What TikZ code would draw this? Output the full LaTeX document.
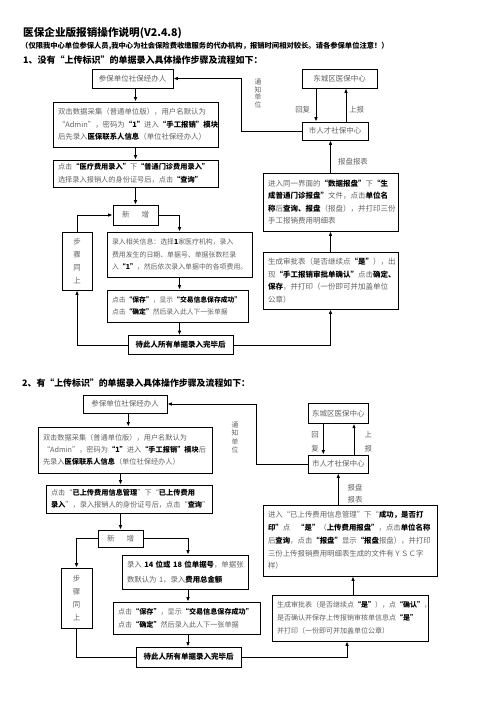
\documentclass[tikz,border=0pt]{standalone}
\usepackage{fontspec}
\setmainfont{Noto Sans CJK SC}
\usetikzlibrary{arrows.meta,calc}
\definecolor{txt}{gray}{0.38}
\newcommand{\hb}[1]{{\bfseries\color{black}#1}}
\tikzset{
  box/.style={draw, line width=0.8pt, inner xsep=5pt, inner ysep=0pt, align=left, text=txt,
    font=\fontsize{7.5}{12.5}\selectfont},
  cbox/.style={draw, line width=0.8pt, inner sep=0pt, align=center, text=txt,
    font=\fontsize{7.5}{12.5}\selectfont},
  lbl/.style={inner sep=0pt, text=txt, align=center, font=\fontsize{7.4}{12.7}\selectfont},
  arr/.style={-{Latex[length=4.5pt,width=3.6pt]}, line width=0.9pt},
  ln/.style={line width=0.9pt},
  head/.style={inner sep=0pt, anchor=west, font=\bfseries}
}
\begin{document}
\begin{tikzpicture}[x=1pt,y=-1pt]
\useasboundingbox (0,0) rectangle (496,702);
% headings
\node[head, font=\fontsize{10.6}{12}\selectfont\bfseries] (t0) at (23,33) {医保企业版报销操作说明(V2.4.8)};
\node[head, font=\fontsize{7.3}{9}\selectfont\bfseries] (t1) at (21,46.5) {（仅限我中心单位参保人员,我中心为社会保险费收缴服务的代办机构，报销时间相对较长。请各参保单位注意！）};
\node[head, font=\fontsize{9}{11}\selectfont\bfseries] (t2) at (23,60) {1、没有“上传标识”的单据录入具体操作步骤及流程如下：};

% ---------- section 1 ----------
\node[cbox, minimum width=81, minimum height=19] (a1) at (132.5,78.5) {参保单位社保经办人};
\node[box, text width=155, minimum height=45, font=\fontsize{7.4}{12.5}\selectfont] (b1) at (135.5,124.5) {双击数据采集（普通单位版），用户名默认为\\“Admin”，密码为\hb{“1”}进入\hb{“手工报销”模块}\\后先录入\hb{医保联系人信息}（单位社保经办人）};
\node[box, text width=155, minimum height=27, font=\fontsize{7.2}{12.5}\selectfont] (c1) at (135.5,173.5) {点击\hb{“医疗费用录入”}下\hb{“普通门诊费用录入”}\\选择录入报销人的身份证号后，点击\hb{“查询”}};
\node[cbox, minimum width=45, minimum height=20] (n1) at (135.5,215) {新\kern 12pt 增};
\node[box, text width=135, minimum height=45, font=\fontsize{6.9}{12.5}\selectfont] (e1) at (179.5,254.5) {录入相关信息：选择\hb{1}家医疗机构，录入\\费用发生的日期、单据号、单据张数栏录\\入\hb{“1”}，然后依次录入单据中的各项费用。};
\node[box, text width=131, minimum height=32, font=\fontsize{6.8}{12.5}\selectfont] (f1) at (177.5,306) {点击\hb{“保存”}，显示\hb{“交易信息保存成功”}\\点击\hb{“确定”}然后录入此人下一张单据};
\node[cbox, minimum width=105, minimum height=19] (g1) at (180.5,345) {\hb{待此人所有单据录入完毕后}};
\node[cbox, minimum width=30, minimum height=58, font=\fontsize{7.4}{12.7}\selectfont] (s1) at (77,261) {步\\骤\\同\\上};
\node[cbox, minimum width=75, minimum height=19] (h1) at (339.5,78.5) {东城区医保中心};
\node[cbox, minimum width=66, minimum height=18] (m1) at (335,131) {市人才社保中心};
\node[box, text width=125, minimum height=58] (p1) at (330.5,202) {进入同一界面的\hb{“数据报盘”}下\hb{“生}\\\hb{成普通门诊报盘”}文件，点击\hb{单位名}\\\hb{称}后\hb{查询、报盘}（报盘），并打印三份\\手工报销费用明细表};
\node[box, text width=125, minimum height=57] (q1) at (330.5,280.5) {生成审批表（是否继续点\hb{“是”}），出\\现\hb{“手工报销审批单确认”}点击\hb{确定、}\\\hb{保存}，并打印（一份即可并加盖单位\\公章）};
\coordinate (k1) at (241,105);
% labels
\node[lbl, font=\fontsize{6.8}{7.6}\selectfont] (v1) at (258,93.5) {通\\知\\单\\位};
\node[lbl] (r1) at (302.7,110) {回复};
\node[lbl] (u1) at (356.7,110) {上报};
\node[lbl] (w1) at (353,161.7) {报盘报表};
% connectors
\draw[arr] (a1.south -| b1.north) -- (b1.north);
\draw[arr] (b1.south) -- (c1.north);
\draw[arr] (c1.south) -- (n1.north);
\draw[arr] (n1.east) -| (e1.north);
\draw[arr] (e1.south) -- (e1.south |- f1.north);
\draw[arr] (e1.south |- f1.south) -- (e1.south |- g1.north);
\draw[arr] (g1.west) -| (s1.south);
\draw[arr] (s1.north) |- (n1.west);
\draw[arr] (g1.east) -| (q1.south);
\draw[arr] (q1.north) -- (p1.south);
\draw[arr] (p1.north) -- (p1.north |- m1.south);
\draw[arr] ([xshift=-19pt]m1.north |- h1.south) -- ([xshift=-19pt]m1.north);
\draw[arr] ([xshift=11pt]m1.north) -- ([xshift=11pt]m1.north |- h1.south);
\draw[arr] (m1.west) -- (m1.west -| k1) -- (k1 |- a1.east) -- (a1.east);

% ---------- section 2 ----------
\node[head, font=\fontsize{8.9}{11}\selectfont\bfseries] (t3) at (22,383.3) {2、有“上传标识”的单据录入具体操作步骤及流程如下：};
\node[cbox, minimum width=84, minimum height=18] (a2) at (125,404) {参保单位社保经办人};
\node[box, text width=164, minimum height=46, font=\fontsize{7.2}{12.3}\selectfont] (b2) at (125,450) {双击数据采集（普通单位版），用户名默认为\\“Admin”，密码为\hb{“1”}进入\hb{“手工报销”模块}后\\先录入\hb{医保联系人信息}（单位社保经办人）};
\node[box, text width=156, minimum height=28, font=\fontsize{7.2}{12.5}\selectfont] (c2) at (129,499) {点击“\hb{已上传费用信息管理}”下“\hb{已上传费用}\\\hb{录入}”，录入报销人的身份证号后，点击“\hb{查询}”};
\node[cbox, minimum width=45, minimum height=17] (n2) at (120.5,538.5) {新\kern 12pt 增};
\node[cbox, minimum width=31, minimum height=60, font=\fontsize{7.4}{12.7}\selectfont] (s2) at (76.5,598) {步\\骤\\同\\上};
\node[box, text width=116, minimum height=34, font=\fontsize{7.4}{14.5}\selectfont] (e2) at (185,572) {录入~\hb{14~位或~18~位单据号}，单据张\\数默认为~1，录入\hb{费用总金额}};
\node[box, text width=137, minimum height=32, font=\fontsize{7.1}{12.5}\selectfont] (f2) at (186.5,618) {点击\hb{“保存”}，显示\hb{“交易信息保存成功”}\\点击\hb{“确定”}然后录入此人下一张单据};
\node[cbox, minimum width=105, minimum height=20] (g2) at (188.5,657) {\hb{待此人所有单据录入完毕后}};
\node[cbox, minimum width=60, minimum height=20] (h2) at (338.3,413.3) {东城区医保中心};
\node[cbox, minimum width=60, minimum height=18] (m2) at (338.3,464) {市人才社保中心};
\node[box, text width=164, minimum height=71, font=\fontsize{7.4}{12.7}\selectfont] (p2) at (350,540.5) {进入“已上传费用信息管理”下“\hb{成功，是否打}\\\hb{印”}点\kern 7pt\hb{“是”}（\hb{上传费用报盘”}，点击\hb{单位名称}\\后\hb{查询}，点击\hb{“报盘”}显示\hb{“报盘}报盘），并打印\\三份上传报销费用明细表生成的文件有ＹＳＣ字\\样）};
\node[box, text width=146, minimum height=46, font=\fontsize{7}{13}\selectfont] (q2) at (350,618) {生成审批表（是否继续点\hb{“是”}），点\hb{“确认”}，\\是否确认并保存上传报销审核单信息点\hb{“是”}\\并打印（一份即可并加盖单位公章）};
\coordinate (k2) at (256.7,430);
\coordinate (x2) at (128.3,420);
% labels
\node[lbl, font=\fontsize{6.8}{8.3}\selectfont] (v2) at (235,437.5) {通\\知\\单\\位};
\node[lbl, font=\fontsize{7.4}{13.3}\selectfont] (r2) at (315,441.7) {回\\复};
\node[lbl, font=\fontsize{7.4}{13.3}\selectfont] (u2) at (368.3,441.7) {上\\报};
\node[lbl, font=\fontsize{7.4}{12.7}\selectfont] (w2) at (355,493.7) {报盘\\报表};
% connectors
\draw[arr] (x2 |- a2.south) -- (x2 |- b2.north);
\draw[arr] (b2.south -| n2.north) -- (n2.north |- c2.north);
\draw[arr] (c2.south -| n2.north) -- (n2.north);
\draw[arr] (n2.west) -| (s2.north);
\draw[arr] (n2.east) -| ([xshift=3pt]e2.north);
\draw[arr] ([xshift=3pt]e2.south) -- ([xshift=3pt]e2.south |- f2.north);
\draw[arr] ([xshift=3pt]e2.south |- f2.south) -- ([xshift=3pt]e2.south |- g2.north);
\draw[ln] (s2.south) |- (g2.west);
\draw[arr] (g2.east) -| ([xshift=-3pt]q2.south);
\draw[arr] ([xshift=3pt]q2.north) -- ([xshift=3pt]q2.north |- p2.south);
\draw[arr] (m2.south |- p2.north) -- (m2.south);
\draw[arr] ([xshift=-15pt]m2.north |- h2.south) -- ([xshift=-15pt]m2.north);
\draw[arr] ([xshift=15.7pt]m2.north) -- ([xshift=15.7pt]m2.north |- h2.south);
\draw[arr] (m2.west) -- (m2.west -| k2) -- (k2 |- a2.east) -- (a2.east);
\end{tikzpicture}
\end{document}
